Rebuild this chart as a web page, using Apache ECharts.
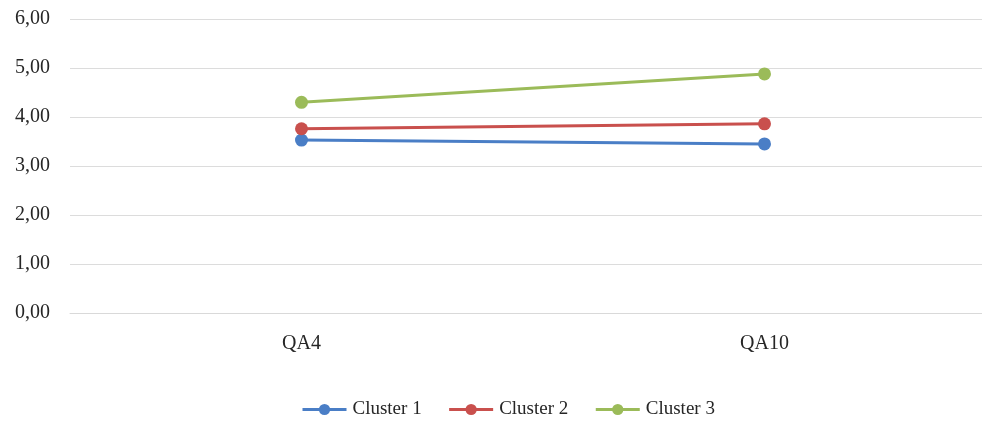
<!DOCTYPE html>
<html>
<head>
<meta charset="utf-8">
<script src="https://cdn.jsdelivr.net/npm/echarts@6/dist/echarts.min.js"></script>
<style>
html,body{margin:0;padding:0;background:#fff;overflow:hidden;width:982px;height:423px;}
/* plot area runs past the right edge of the window, so the canvas is a bit wider */
#chart{width:996px;height:423px;}
</style>
</head>
<body>
<div id="chart"></div>
<script>
// Mean scores per cluster for the two items
const categories = ['QA4', 'QA10'];
const seriesNames = ['Cluster 1', 'Cluster 2', 'Cluster 3'];
const cluster1 = [3.53, 3.45];
const cluster2 = [3.76, 3.86];
const cluster3 = [4.30, 4.88];
const colors = ['#4A7EC6', '#C9504D', '#9BBB59'];

const font = '"Liberation Serif", "Times New Roman", serif';
const chart = echarts.init(document.getElementById('chart'));

const makeSeries = (name, data, color) => ({
  name: name,
  type: 'line',
  data: data,
  symbol: 'circle',
  symbolSize: 13,
  lineStyle: { width: 3, color: color },
  itemStyle: { color: color },
  emphasis: { disabled: true }
});

chart.setOption({
  animation: false,
  textStyle: { fontFamily: font },
  grid: { left: 70, right: 0, top: 19, bottom: 110, containLabel: false },
  xAxis: {
    type: 'category',
    data: categories,
    boundaryGap: true,
    axisLine: { show: true, lineStyle: { color: '#d9d9d9', width: 1 } },
    axisTick: { show: false },
    axisLabel: { color: '#262626', fontSize: 20, fontFamily: font, margin: 21 }
  },
  yAxis: {
    type: 'value',
    min: 0,
    max: 6,
    interval: 1,
    axisLine: { show: false },
    axisTick: { show: false },
    splitLine: { lineStyle: { color: '#dcdcdc', width: 1 } },
    axisLabel: {
      color: '#262626',
      fontSize: 20,
      fontFamily: font,
      margin: 20,
      formatter: v => v.toFixed(2).replace('.', ',')
    }
  },
  legend: {
    top: 400,
    left: 301,
    padding: 0,
    itemWidth: 44,
    itemHeight: 14,
    itemGap: 26,
    lineStyle: { width: 3 },
    textStyle: { color: '#262626', fontSize: 19, fontFamily: font, padding: [0, 0, 0, 1] },
    data: seriesNames
  },
  series: [
    makeSeries(seriesNames[0], cluster1, colors[0]),
    makeSeries(seriesNames[1], cluster2, colors[1]),
    makeSeries(seriesNames[2], cluster3, colors[2])
  ]
});
</script>
</body>
</html>
